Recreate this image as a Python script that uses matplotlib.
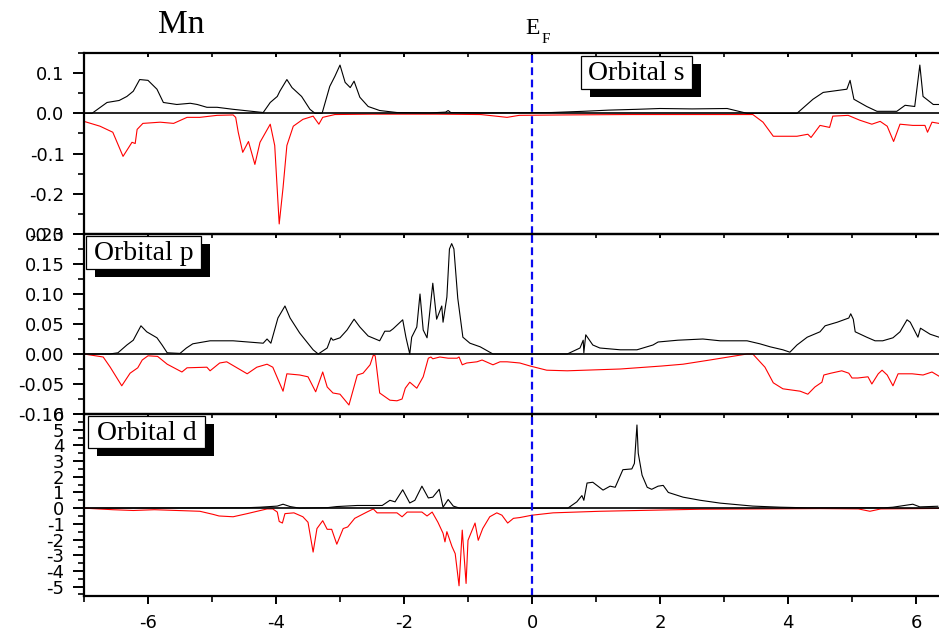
import matplotlib

matplotlib.use("Agg")
import matplotlib.pyplot as plt
from matplotlib.patches import Rectangle
from matplotlib.ticker import MultipleLocator, FormatStrFormatter
import numpy as np

# (energy, DOS) points, spin up (black) and spin down (red)
S_UP = [(-7.0, 0), (-6.875, 0), (-6.64, 0.027), (-6.45, 0.032), (-6.33, 0.042), (-6.23, 0.055),
        (-6.13, 0.084), (-6.0, 0.082), (-5.86, 0.06), (-5.76, 0.027), (-5.55, 0.022), (-5.34, 0.025),
        (-5.23, 0.022), (-5.08, 0.015), (-4.92, 0.015), (-4.67, 0.01), (-4.2, 0.002), (-4.09, 0.027),
        (-3.98, 0.042), (-3.94, 0.055), (-3.83, 0.084), (-3.75, 0.064), (-3.6, 0.042), (-3.47, 0.01),
        (-3.39, 0), (-3.28, 0), (-3.16, 0.067), (-3.08, 0.092), (-3.0, 0.12), (-2.92, 0.077),
        (-2.84, 0.064), (-2.78, 0.08), (-2.69, 0.04), (-2.56, 0.017), (-2.38, 0.007), (-2.11, 0.002),
        (-1.6, 0.001), (-1.35, 0.003), (-1.31, 0.007), (-1.27, 0.002), (-0.8, 0.001), (0.3, 0.002),
        (0.8, 0.005), (1.2, 0.008), (1.64, 0.01), (2.0, 0.012), (2.5, 0.011), (3.05, 0.012),
        (3.36, 0), (4.14, 0), (4.39, 0.035), (4.55, 0.052), (4.92, 0.06), (4.97, 0.082),
        (5.03, 0.035), (5.23, 0.017), (5.39, 0.005), (5.7, 0.005), (5.83, 0.02), (5.98, 0.017),
        (6.06, 0.12), (6.11, 0.042), (6.27, 0.022), (6.36, 0.022)]
S_DN = [(-7.0, -0.02), (-6.75, -0.032), (-6.55, -0.047), (-6.39, -0.107), (-6.25, -0.072),
        (-6.2, -0.075), (-6.17, -0.04), (-6.08, -0.025), (-5.81, -0.022), (-5.6, -0.025),
        (-5.39, -0.01), (-5.19, -0.01), (-4.92, -0.005), (-4.67, -0.004), (-4.63, -0.01),
        (-4.59, -0.047), (-4.52, -0.097), (-4.43, -0.07), (-4.33, -0.127), (-4.25, -0.072),
        (-4.09, -0.027), (-4.02, -0.08), (-3.95, -0.275), (-3.89, -0.185), (-3.83, -0.08),
        (-3.73, -0.032), (-3.58, -0.015), (-3.42, -0.007), (-3.33, -0.027), (-3.27, -0.01),
        (-3.08, -0.003), (-2.5, -0.002), (-1.5, -0.002), (-0.8, -0.003), (-0.39, -0.01),
        (-0.2, -0.005), (0.5, -0.004), (1.5, -0.003), (2.5, -0.003), (3.45, -0.003),
        (3.61, -0.022), (3.77, -0.057), (4.14, -0.057), (4.31, -0.052), (4.36, -0.06),
        (4.5, -0.03), (4.65, -0.035), (4.7, -0.007), (4.94, -0.005), (5.12, -0.017),
        (5.31, -0.027), (5.44, -0.02), (5.55, -0.032), (5.65, -0.07), (5.75, -0.027),
        (5.95, -0.03), (6.14, -0.03), (6.18, -0.047), (6.25, -0.022), (6.36, -0.025)]

P_UP = [(-7.0, 0), (-6.6, 0), (-6.47, 0.002), (-6.33, 0.015), (-6.23, 0.023), (-6.11, 0.047),
        (-6.02, 0.037), (-5.86, 0.027), (-5.78, 0.015), (-5.7, 0.002), (-5.5, 0.001), (-5.4, 0.01),
        (-5.3, 0.017), (-5.03, 0.022), (-4.67, 0.022), (-4.2, 0.018), (-4.14, 0.025), (-4.08, 0.018),
        (-3.97, 0.06), (-3.86, 0.08), (-3.78, 0.06), (-3.63, 0.035), (-3.42, 0.007), (-3.34, 0),
        (-3.2, 0.01), (-3.14, 0.027), (-3.11, 0.023), (-3.0, 0.027), (-2.89, 0.04), (-2.78, 0.058),
        (-2.69, 0.045), (-2.56, 0.03), (-2.38, 0.022), (-2.3, 0.038), (-2.22, 0.038), (-2.17, 0.042),
        (-2.02, 0.057), (-1.97, 0.028), (-1.91, 0), (-1.88, 0.028), (-1.8, 0.045), (-1.75, 0.1),
        (-1.7, 0.04), (-1.64, 0.027), (-1.55, 0.118), (-1.49, 0.058), (-1.41, 0.08), (-1.39, 0.053),
        (-1.33, 0.095), (-1.29, 0.175), (-1.255, 0.184), (-1.22, 0.175), (-1.16, 0.093),
        (-1.08, 0.028), (-0.97, 0.018), (-0.81, 0.012), (-0.61, 0), (0.55, 0), (0.75, 0.01),
        (0.8, 0.023), (0.81, 0.002), (0.84, 0.032), (0.95, 0.015), (1.06, 0.01), (1.38, 0.007),
        (1.64, 0.007), (1.89, 0.015), (1.97, 0.02), (2.28, 0.023), (2.67, 0.025), (2.94, 0.022),
        (3.36, 0.022), (3.56, 0.017), (3.72, 0.012), (3.92, 0.007), (4.03, 0.003), (4.14, 0.015),
        (4.3, 0.028), (4.5, 0.037), (4.58, 0.047), (4.77, 0.053), (4.95, 0.06), (4.98, 0.067),
        (5.02, 0.058), (5.05, 0.037), (5.23, 0.028), (5.36, 0.022), (5.48, 0.022), (5.64, 0.027),
        (5.75, 0.037), (5.86, 0.057), (5.91, 0.053), (6.03, 0.028), (6.07, 0.043), (6.22, 0.033),
        (6.36, 0.028)]
P_DN = [(-7.0, 0), (-6.7, -0.005), (-6.59, -0.022), (-6.41, -0.053), (-6.28, -0.032),
        (-6.16, -0.023), (-6.09, -0.01), (-6.0, -0.003), (-5.85, -0.004), (-5.7, -0.017),
        (-5.47, -0.03), (-5.39, -0.023), (-5.08, -0.022), (-5.03, -0.028), (-4.88, -0.015),
        (-4.77, -0.013), (-4.45, -0.033), (-4.3, -0.022), (-4.14, -0.017), (-4.05, -0.022),
        (-3.89, -0.062), (-3.83, -0.033), (-3.63, -0.035), (-3.5, -0.038), (-3.38, -0.063),
        (-3.27, -0.03), (-3.2, -0.055), (-3.11, -0.065), (-3.0, -0.067), (-2.86, -0.085),
        (-2.73, -0.035), (-2.64, -0.032), (-2.53, -0.018), (-2.48, -0.002), (-2.45, -0.003),
        (-2.38, -0.065), (-2.22, -0.077), (-2.11, -0.078), (-2.03, -0.075), (-1.98, -0.057),
        (-1.91, -0.047), (-1.8, -0.057), (-1.7, -0.038), (-1.62, -0.007), (-1.58, -0.005),
        (-1.55, -0.008), (-1.44, -0.005), (-1.31, -0.007), (-1.17, -0.007), (-1.14, -0.005),
        (-1.09, -0.018), (-1.02, -0.015), (-0.86, -0.013), (-0.78, -0.01), (-0.61, -0.018),
        (-0.5, -0.013), (-0.39, -0.013), (-0.19, -0.015), (-0.03, -0.02), (0.23, -0.027),
        (0.55, -0.028), (1.38, -0.025), (2.03, -0.02), (2.36, -0.017), (2.78, -0.01), (3.36, 0),
        (3.45, 0), (3.64, -0.022), (3.77, -0.048), (3.92, -0.058), (4.19, -0.062), (4.31, -0.067),
        (4.42, -0.055), (4.53, -0.047), (4.56, -0.035), (4.67, -0.032), (4.84, -0.028),
        (4.95, -0.032), (5.0, -0.04), (5.09, -0.04), (5.25, -0.038), (5.31, -0.05), (5.41, -0.033),
        (5.47, -0.027), (5.55, -0.035), (5.64, -0.053), (5.72, -0.033), (5.94, -0.033),
        (6.11, -0.035), (6.25, -0.03), (6.36, -0.037)]

D_UP = [(-7.0, 0), (-4.5, 0.02), (-4.25, 0.06), (-3.98, 0.13), (-3.89, 0.25), (-3.78, 0.1),
        (-3.63, 0.0), (-3.2, 0.03), (-3.05, 0.1), (-2.73, 0.17), (-2.34, 0.17), (-2.22, 0.5),
        (-2.14, 0.4), (-2.02, 1.17), (-1.91, 0.33), (-1.83, 0.5), (-1.72, 1.4), (-1.62, 0.65),
        (-1.55, 0.7), (-1.45, 1.2), (-1.39, 0.06), (-1.31, 0.55), (-1.23, 0.13), (-1.13, 0.0),
        (0.56, 0.0), (0.7, 0.4), (0.78, 0.8), (0.81, 0.5), (0.86, 1.6), (0.95, 1.65), (1.11, 1.15),
        (1.22, 1.4), (1.3, 1.33), (1.42, 2.45), (1.56, 2.5), (1.6, 2.85), (1.64, 5.3), (1.66, 3.5),
        (1.72, 2.1), (1.8, 1.33), (1.87, 1.2), (1.97, 1.4), (2.05, 1.45), (2.13, 1.0), (2.36, 0.7),
        (2.63, 0.5), (2.94, 0.32), (3.45, 0.13), (3.88, 0.06), (4.3, 0.02), (5.5, 0.02),
        (5.64, 0.06), (5.95, 0.25), (6.06, 0.08), (6.34, 0.12)]
D_DN = [(-7.0, 0), (-6.55, -0.1), (-6.23, -0.15), (-5.9, -0.1), (-5.19, -0.2), (-4.98, -0.4),
        (-4.89, -0.5), (-4.67, -0.55), (-4.45, -0.35), (-4.14, -0.05), (-4.05, -0.05),
        (-3.98, -0.25), (-3.95, -0.85), (-3.9, -0.95), (-3.86, -0.35), (-3.72, -0.3),
        (-3.58, -0.55), (-3.5, -0.9), (-3.42, -2.8), (-3.36, -1.3), (-3.27, -0.8), (-3.2, -1.35),
        (-3.13, -1.35), (-3.05, -2.3), (-2.95, -1.3), (-2.88, -1.2), (-2.77, -0.65),
        (-2.58, -0.25), (-2.48, -0.05), (-2.42, -0.3), (-2.11, -0.3), (-2.03, -0.55),
        (-1.95, -0.25), (-1.72, -0.25), (-1.64, -0.5), (-1.56, -0.25), (-1.47, -0.9),
        (-1.39, -1.6), (-1.36, -2.15), (-1.33, -1.5), (-1.25, -2.45), (-1.2, -2.9),
        (-1.14, -4.95), (-1.09, -1.4), (-1.03, -4.8), (-1.0, -2.05), (-0.89, -0.95),
        (-0.84, -2.05), (-0.77, -1.3), (-0.66, -0.55), (-0.55, -0.3), (-0.47, -0.45),
        (-0.38, -0.95), (-0.29, -0.65), (-0.19, -0.6), (0.0, -0.45), (0.33, -0.3), (1.06, -0.2),
        (2.63, -0.07), (4.5, -0.03), (5.1, -0.05), (5.28, -0.2), (5.45, -0.05), (6.36, -0.02)]

LABELS = ["Orbital s", "Orbital p", "Orbital d"]
YLIMS = [(-0.3, 0.15), (-0.10, 0.20), (-5.6, 6.0)]
YMAJOR = [0.1, 0.05, 1.0]
YFMT = ["%.1f", "%.2f", "%d"]
XTICKS = [-6, -4, -2, 0, 2, 4, 6]

W, H = 939, 636
SERIF = "Liberation Serif"
plt.rcParams["axes.unicode_minus"] = False
plt.rcParams["font.family"] = "DejaVu Sans"

fig = plt.figure(figsize=(W / 100, H / 100), dpi=100)

# panel extents in pixels (top, bottom) and box positions for the orbital labels
PANELS = [(53, 234), (234, 414), (414, 596)]
BOXES = [(581, 56, 692, 89), (86, 236, 201, 269), (88, 416, 205, 448)]
left_px = 84
xmin, xmax = -7.0, 6.5
width_px = (xmax - xmin) * 64


def fx(px):
    return px / W


def fy(py):
    return 1 - py / H


def label_box(x0, y0, x1, y1, text):
    shadow = Rectangle((fx(x0 + 9), fy(y1 + 8)), fx(x1 - x0), (y1 - y0) / H,
                       transform=fig.transFigure, facecolor="black", edgecolor="none", zorder=5)
    box = Rectangle((fx(x0), fy(y1)), fx(x1 - x0), (y1 - y0) / H,
                    transform=fig.transFigure, facecolor="white", edgecolor="black",
                    linewidth=0.9, zorder=6)
    fig.patches.extend([shadow, box])
    fig.text(fx((x0 + x1) / 2), fy((y0 + y1) / 2 + 1), text, family=SERIF, fontsize=20,
             ha="center", va="center", zorder=7)


series = [(S_UP, S_DN), (P_UP, P_DN), (D_UP, D_DN)]
for k, ((top, bot), (up, dn)) in enumerate(zip(PANELS, series)):
    ax = fig.add_axes([fx(left_px), fy(bot), width_px / W, (bot - top) / H])
    ux, uy = np.array(up).T
    dx, dy = np.array(dn).T
    ax.plot(ux, uy, color="black", lw=0.8)
    ax.plot(dx, dy, color="red", lw=0.8)
    ax.axhline(0, color="black", lw=1.2)
    ax.axvline(0, color="#0a0aef", lw=1.6, ls=(0, (3.5, 2)))
    ax.set_xlim(xmin, xmax)
    ax.set_ylim(*YLIMS[k])
    ax.yaxis.set_major_locator(MultipleLocator(YMAJOR[k]))
    ax.yaxis.set_minor_locator(MultipleLocator(YMAJOR[k] / 2))
    ax.yaxis.set_major_formatter(FormatStrFormatter(YFMT[k]))
    ax.set_xticks(XTICKS)
    ax.xaxis.set_minor_locator(MultipleLocator(1))
    for s in ax.spines.values():
        s.set_linewidth(1.6)
    ax.spines["right"].set_visible(False)
    ax.tick_params(axis="y", which="major", direction="out", length=8, width=1.4,
                   labelsize=13, pad=6)
    ax.tick_params(axis="y", which="minor", direction="out", length=4.5, width=1.2)
    ax.tick_params(axis="x", which="both", top=True, bottom=(k == 2), labelbottom=(k == 2))
    ax.tick_params(axis="x", which="major", direction="out", length=6, width=1.4,
                   labelsize=13, pad=7)
    ax.tick_params(axis="x", which="minor", direction="out", length=4, width=1.2)
    ax.patch.set_alpha(0)
    label_box(*BOXES[k], LABELS[k])

# top-of-panel ticks drawn inward, as on the reference
for ax in fig.axes:
    for t in ax.xaxis.get_major_ticks() + ax.xaxis.get_minor_ticks():
        t.tick2line.set_marker(3)
        t.tick2line.set_markersize(3)

fig.text(fx(158), fy(33), "Mn", family=SERIF, fontsize=24, va="baseline")
fig.text(fx(525), fy(34), "E", family=SERIF, fontsize=17, va="baseline")
fig.text(fx(542), fy(43), "F", family=SERIF, fontsize=11, va="baseline")

fig.savefig("out.png", dpi=100)
